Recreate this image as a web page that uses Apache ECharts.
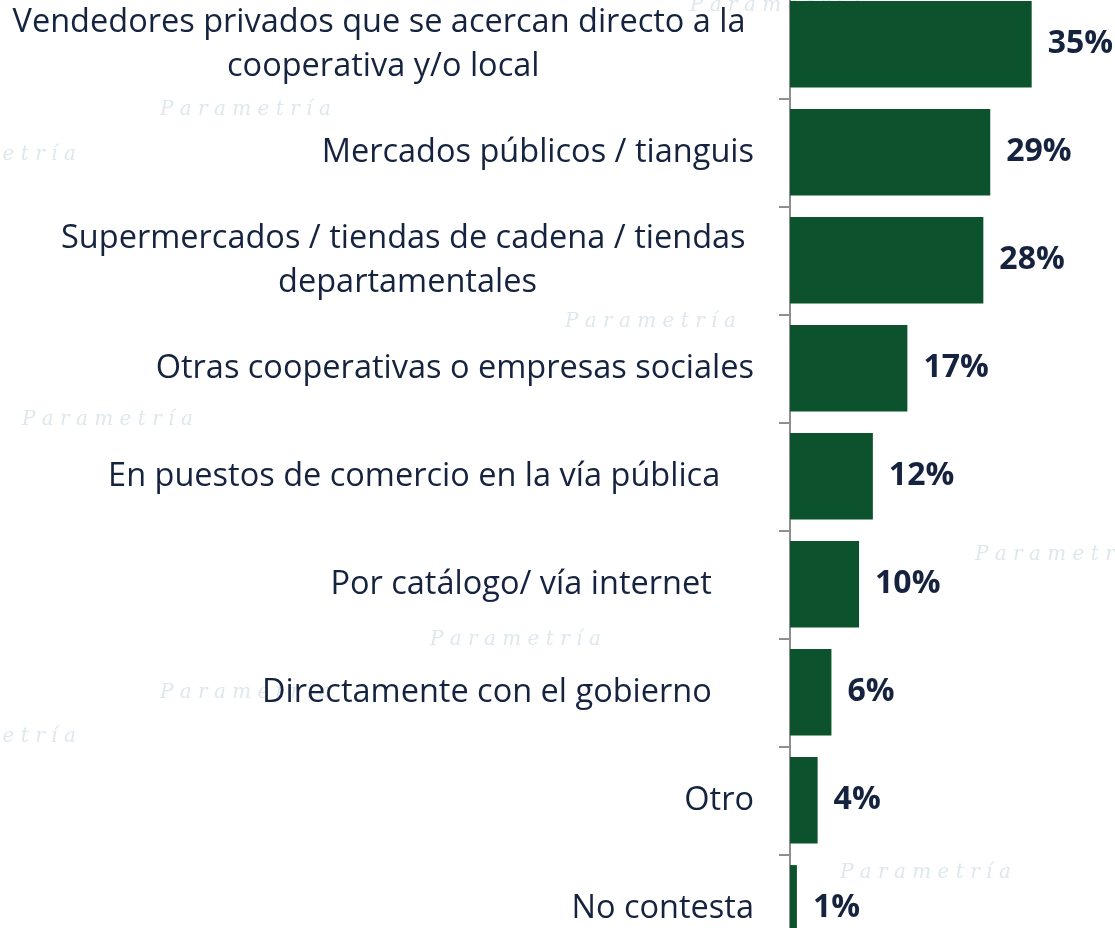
<!DOCTYPE html>
<html>
<head>
<meta charset="utf-8">
<script src="https://cdn.jsdelivr.net/npm/echarts@6/dist/echarts.min.js"></script>
<style>
  html, body { margin: 0; padding: 0; background: #fff; }
  #chart { width: 1115px; height: 928px; }
</style>
</head>
<body>
<div id="chart"></div>
<script>
// canales de venta (lineas separadas con \n)
const categories = [
  'Vendedores privados que se acercan directo a la \ncooperativa y/o local',
  'Mercados públicos / tianguis',
  'Supermercados / tiendas de cadena / tiendas \ndepartamentales',
  'Otras cooperativas o empresas sociales',
  'En puestos de comercio en la vía pública    ',
  'Por catálogo/ vía internet     ',
  'Directamente con el gobierno     ',
  'Otro',
  'No contesta'
]
const valores = [35, 29, 28, 17, 12, 10, 6, 4, 1]

const textColor = '#15233f'
const barColor = '#0c522d'
const fontName = 'Open Sans'

// marca de agua de fondo (solo decorativa)
const marcaAgua = [
  [160, 100], [565, 312], [22, 410], [430, 630], [975, 545],
  [160, 683], [840, 863], [-95, 145], [-95, 727], [690, -4]
].map(function (p) {
  return {
    type: 'text',
    x: p[0],
    y: p[1],
    z: -10,
    silent: true,
    style: {
      text: 'P a r a m e t r í a',
      font: 'italic 20px "DejaVu Serif"',
      fill: '#dfe8ed'
    }
  }
})

const chart = echarts.init(document.getElementById('chart'), null, { renderer: 'canvas' })
chart.setOption({
  backgroundColor: '#ffffff',
  animation: false,
  graphic: marcaAgua,
  grid: {
    left: 790,
    top: -9.7,
    width: 276.2,
    height: 972,
    outerBoundsMode: 'none',
    containLabel: false
  },
  xAxis: {
    type: 'value',
    min: 0,
    max: 40,
    show: false
  },
  yAxis: {
    type: 'category',
    inverse: true,
    data: categories,
    axisLine: {
      show: true,
      lineStyle: { color: '#8f8f8f', width: 2 }
    },
    axisTick: {
      show: true,
      length: 11,
      lineStyle: { color: '#8f8f8f', width: 2 }
    },
    axisLabel: {
      margin: 36,
      fontFamily: fontName,
      fontSize: 32.5,
      color: textColor,
      lineHeight: 44,
      formatter: function (val) {
        // cada linea centrada dentro del bloque
        return val.split('\n').map(function (l) { return '{c|' + l + '}' }).join('\n')
      },
      rich: {
        c: {
          align: 'center',
          fontFamily: fontName,
          fontSize: 32.5,
          color: textColor,
          lineHeight: 44
        }
      }
    }
  },
  series: [{
    type: 'bar',
    data: valores,
    barCategoryGap: '20%',
    itemStyle: { color: barColor },
    label: {
      show: true,
      position: 'right',
      distance: 16,
      formatter: '{c}%',
      fontFamily: fontName,
      fontWeight: 'bold',
      fontSize: 32,
      color: textColor
    }
  }]
})
</script>
</body>
</html>
